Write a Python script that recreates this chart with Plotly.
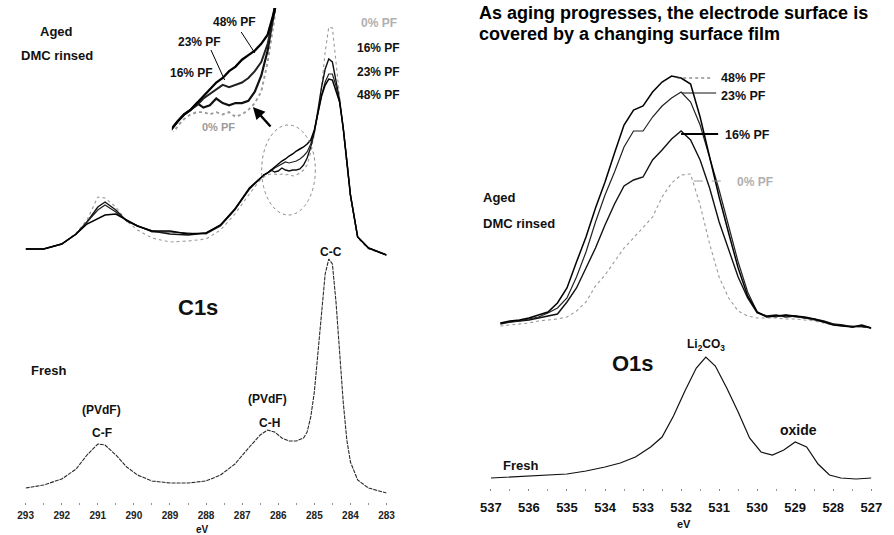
import plotly.graph_objects as go

W, H = 894, 535
FONT = "Liberation Sans, Arial, sans-serif"

# ---------------- C1s spectra (binding energy in eV, intensity in a.u.) ----------------
C1S_EV_AGED = [293.0, 292.5, 292.0, 291.6, 291.3, 291.0, 290.8, 290.5, 290.2, 289.9,
               289.5, 289.0, 288.5, 288.0, 287.6, 287.2, 286.8,
               286.5, 286.4, 286.3, 286.2, 286.1, 286.0, 285.9, 285.8, 285.7, 285.6,
               285.5, 285.4, 285.3, 285.2, 285.1, 285.0,
               284.9, 284.8, 284.7, 284.6, 284.5, 284.4, 284.3, 284.2, 284.1, 284.0,
               283.8, 283.5, 283.0]
C1S_AGED_0 = [13, 13, 18, 29, 42, 65, 64, 55, 41, 32, 24, 20, 21, 23, 32, 48, 68,
              82, 85, 87, 88, 88, 87, 88, 87, 88, 86, 87, 89, 92, 97, 110, 128,
              148, 175, 210, 235, 234, 200, 163, 130, 97, 64, 24, 13, 7]
C1S_AGED_16 = [13, 13, 18, 28, 40, 55, 60, 52, 41, 36, 31, 28, 27, 29, 37, 53, 73,
               84, 87, 89, 92, 90, 91, 94, 92, 91, 92, 92, 93, 97, 104, 115, 130,
               152, 175, 193, 203, 200, 182, 162, 134, 102, 67, 25, 14, 7]
C1S_AGED_23 = [13, 13, 18, 28, 40, 52, 57, 50, 41, 36, 30, 30, 29, 28, 36, 52, 73,
               84, 87, 89, 91, 94, 96, 98, 100, 99, 100, 101, 103, 106, 110, 118, 131,
               150, 167, 180, 188, 188, 176, 160, 134, 102, 67, 25, 14, 7]
C1S_AGED_48 = [13, 13, 18, 28, 38, 43, 47, 48, 42, 36, 31, 31, 28, 29, 37, 53, 74,
               84, 87, 89, 92, 95, 98, 101, 103, 106, 108, 111, 113, 115, 118, 122, 132,
               150, 166, 177, 183, 182, 172, 160, 134, 102, 67, 25, 14, 7]

C1S_EV_FRESH = [293.0, 292.5, 292.0, 291.6, 291.3, 291.0, 290.8, 290.5, 290.2, 289.9,
                289.5, 289.0, 288.5, 288.0, 287.6, 287.2, 286.8, 286.5, 286.3, 286.1,
                285.9, 285.7, 285.5, 285.3, 285.2, 285.1, 285.0, 284.9, 284.8, 284.7,
                284.6, 284.5, 284.4, 284.3, 284.2, 284.1, 284.0, 283.8, 283.5, 283.0]
C1S_FRESH = [14, 17, 23, 33, 47, 58, 57, 47, 35, 27, 21, 19, 19, 21, 27, 38, 55, 67, 72, 70,
             64, 61, 61, 64, 70, 85, 110, 150, 195, 228, 243, 238, 200, 150, 100, 62, 40, 22, 14, 9]

C1S_TICKS = [293, 292, 291, 290, 289, 288, 287, 286, 285, 284, 283]

# ---------------- O1s spectra ----------------
O1S_EV_AGED = [536.75, 536.5, 536.25, 536.0, 535.75, 535.5, 535.25, 535.0, 534.75, 534.5,
               534.25, 534.0, 533.75, 533.5, 533.25, 533.0, 532.75, 532.5, 532.25, 532.0,
               531.75, 531.5, 531.25, 531.0, 530.75, 530.5, 530.25, 530.0, 529.75, 529.5,
               529.25, 529.0, 528.75, 528.5, 528.25, 528.0, 527.75, 527.5, 527.25, 527.0]
O1S_AGED_0 = [7, 8, 9, 10, 12, 13, 14, 16, 22, 31, 47, 58, 71, 85, 95, 105, 116, 136, 150, 158,
              159, 128, 89, 56, 35, 22, 17, 15, 15, 15, 14, 14, 13, 12, 10, 8, 7, 6, 6, 5]
O1S_AGED_16 = [9, 11, 12, 13, 15, 17, 19, 31, 45, 65, 85, 108, 129, 147, 153, 156, 173, 183, 194, 202,
               193, 173, 145, 111, 83, 56, 35, 20, 17, 18, 16, 17, 15, 14, 12, 9, 8, 6, 7, 5]
O1S_AGED_23 = [10, 11, 12, 14, 16, 20, 25, 35, 56, 81, 111, 138, 161, 186, 202, 202, 216, 227, 235, 241,
               231, 208, 175, 143, 107, 71, 41, 21, 17, 16, 18, 16, 15, 13, 11, 9, 7, 7, 6, 5]
O1S_AGED_48 = [10, 12, 13, 15, 18, 21, 30, 45, 71, 96, 125, 151, 180, 208, 223, 227, 241, 251, 257, 255,
               249, 216, 176, 136, 100, 65, 37, 21, 16, 17, 18, 17, 16, 14, 11, 8, 7, 6, 8, 5]

O1S_EV_FRESH = [537.0, 536.5, 536.0, 535.5, 535.0, 534.5, 534.0, 533.6, 533.2, 532.8,
                532.5, 532.2, 531.9, 531.6, 531.35, 531.1, 530.8, 530.5, 530.2, 529.9,
                529.6, 529.3, 529.0, 528.7, 528.4, 528.1, 527.8, 527.4, 527.0]
O1S_FRESH = [10, 11, 12, 13, 14, 17, 21, 25, 31, 41, 51, 72, 97, 120, 131, 122, 100, 76, 50, 36,
             33, 38, 46, 41, 24, 13, 10, 9, 10]

O1S_TICKS = [537, 536, 535, 534, 533, 532, 531, 530, 529, 528, 527]

# vertical offsets separating the aged stack from the fresh spectrum
C1S_AGED_OFFSET = 240
O1S_AGED_OFFSET = 155

GRAY = "#9a9a9a"
SERIES = [
    ("0% PF", C1S_AGED_0, O1S_AGED_0, dict(color=GRAY, width=1.1, dash="dot")),
    ("16% PF", C1S_AGED_16, O1S_AGED_16, dict(color="#111", width=1.4)),
    ("23% PF", C1S_AGED_23, O1S_AGED_23, dict(color="#222", width=1.2)),
    ("48% PF", C1S_AGED_48, O1S_AGED_48, dict(color="#000", width=1.5)),
]


def px(x):
    return x / W


def py(y):
    return 1 - y / H


fig = go.Figure()

# C1s fresh
fig.add_trace(go.Scatter(x=C1S_EV_FRESH, y=C1S_FRESH, mode="lines",
                         line=dict(color="#2a2a2a", width=1.1, dash="4px,1px"),
                         xaxis="x", yaxis="y", name="C1s fresh"))
# C1s aged stack and magnified view
for name, c1s, _, style in SERIES:
    shifted = [v + C1S_AGED_OFFSET for v in c1s]
    fig.add_trace(go.Scatter(x=C1S_EV_AGED, y=shifted, mode="lines", line=style,
                             xaxis="x", yaxis="y", name="C1s " + name))
for name, c1s, _, style in SERIES:
    shifted = [v + C1S_AGED_OFFSET for v in c1s]
    big = dict(style)
    big["width"] = style["width"] + 0.8
    fig.add_trace(go.Scatter(x=C1S_EV_AGED, y=shifted, mode="lines", line=big,
                             xaxis="x3", yaxis="y3", name="C1s inset " + name))

# O1s fresh
fig.add_trace(go.Scatter(x=O1S_EV_FRESH, y=O1S_FRESH, mode="lines",
                         line=dict(color="#111", width=1.2),
                         xaxis="x2", yaxis="y2", name="O1s fresh"))
# O1s aged stack
for name, _, o1s, style in SERIES:
    shifted = [v + O1S_AGED_OFFSET for v in o1s]
    fig.add_trace(go.Scatter(x=O1S_EV_AGED, y=shifted, mode="lines", line=style,
                             xaxis="x2", yaxis="y2", name="O1s " + name))

tick_common = dict(showgrid=False, zeroline=False, showline=False, ticks="outside",
                   ticklen=2, tickwidth=1, tickcolor="#888")

fig.update_layout(
    width=W, height=H,
    margin=dict(l=0, r=0, t=0, b=0),
    paper_bgcolor="white", plot_bgcolor="white",
    showlegend=False,
    xaxis=dict(domain=[px(15), px(385)], range=[293, 283], anchor="y",
               tickvals=C1S_TICKS, ticktext=[str(t) for t in C1S_TICKS],
               tickfont=dict(family=FONT, size=10, color="#222", weight="bold"),
               ticklabelstandoff=2,
               minor=dict(dtick=0.5, ticks="outside", ticklen=2, tickcolor="#999"),
               **tick_common),
    yaxis=dict(domain=[33 / H, 1], range=[0, 502], visible=False),
    xaxis2=dict(domain=[px(492), px(882)], range=[537, 527], anchor="y2",
                tickvals=O1S_TICKS, ticktext=[str(t) for t in O1S_TICKS],
                tickfont=dict(family=FONT, size=13, color="#111", weight="bold"),
                ticklabelstandoff=5,
                minor=dict(dtick=0.5, ticks="outside", ticklen=2, tickcolor="#999"),
                **tick_common),
    yaxis2=dict(domain=[47 / H, 1], range=[0, 488], visible=False),
    xaxis3=dict(domain=[px(165), px(275)], range=[286.59, 284.92], anchor="y3", visible=False),
    yaxis3=dict(domain=[py(132), py(8)], range=[319.3, 373.7], visible=False),
)


def label(text, x, y, size=12, color="#111", anchor="center"):
    return dict(text=text, x=px(x), y=py(y), xref="paper", yref="paper", showarrow=False,
                xanchor=anchor, yanchor="middle",
                font=dict(family=FONT, size=size, color=color, weight="bold"))


ann = [
    # C1s panel
    label("Aged", 47, 31, 13),
    label("DMC rinsed", 47, 55, 13),
    label("48% PF", 229, 22, 12),
    label("23% PF", 193, 42, 12),
    label("16% PF", 185, 73, 12),
    label("0% PF", 213, 127, 11, GRAY),
    label("0% PF", 377, 23, 12, "#b0b0b0"),
    label("16% PF", 377, 48, 12),
    label("23% PF", 377, 72, 12),
    label("48% PF", 377, 95, 12),
    label("C-C", 328, 252, 12),
    label("C1s", 192, 307, 22),
    label("Fresh", 38, 370, 13),
    label("(PVdF)", 93, 410, 12),
    label("C-F", 93, 433, 12),
    label("(PVdF)", 263, 399, 12),
    label("C-H", 265, 423, 12),
    label("eV", 196, 529, 10),
    # O1s panel
    label("As aging progresses, the electrode surface is", 478, 13, 18, "#000", "left"),
    label("covered by a changing surface film", 478, 34, 18, "#000", "left"),
    label("48% PF", 726, 78, 12.5, "#111", "left"),
    label("23% PF", 726, 96, 12.5, "#111", "left"),
    label("16% PF", 730, 135, 12.5, "#111", "left"),
    label("0% PF", 742, 182, 12, "#b0b0b0", "left"),
    label("Aged", 482, 197, 13, "#111", "left"),
    label("DMC rinsed", 482, 223, 13, "#111", "left"),
    label("O1s", 638, 363, 22),
    label("Li<sub>2</sub>CO<sub>3</sub>", 713, 345, 12),
    label("oxide", 807, 430, 14),
    label("Fresh", 502, 465, 13, "#111", "left"),
    label("eV", 690, 524, 11),
    # arrow from the circled region to the magnified view
    dict(x=px(248), y=py(107), xref="paper", yref="paper", ax=19, ay=21,
         axref="pixel", ayref="pixel", showarrow=True, arrowhead=2, arrowsize=1,
         arrowwidth=2.4, arrowcolor="#000", text=""),
]
fig.update_layout(annotations=ann)


def seg(x0, y0, x1, y1, color="#000", width=1, dash="solid"):
    return dict(type="line", xref="paper", yref="paper", x0=px(x0), y0=py(y0),
                x1=px(x1), y1=py(y1), line=dict(color=color, width=width, dash=dash))


shapes = [
    # circled region of the aged C1s spectra
    dict(type="circle", xref="paper", yref="paper", x0=px(257), x1=px(312),
         y0=py(215), y1=py(125), line=dict(color="#888", width=1, dash="dot")),
    # leader lines, magnified view
    seg(236, 32, 250, 53),
    seg(205, 50, 219, 80),
    # leader lines, O1s labels
    seg(683, 78, 717, 78, "#555", 1, "dot"),
    seg(688, 93, 723, 93, "#111", 1.2),
    seg(687, 134, 725, 134, "#000", 2),
    seg(700, 181, 737, 181, GRAY, 1, "dash"),
]
fig.update_layout(shapes=shapes)

fig.write_html("out.html")
